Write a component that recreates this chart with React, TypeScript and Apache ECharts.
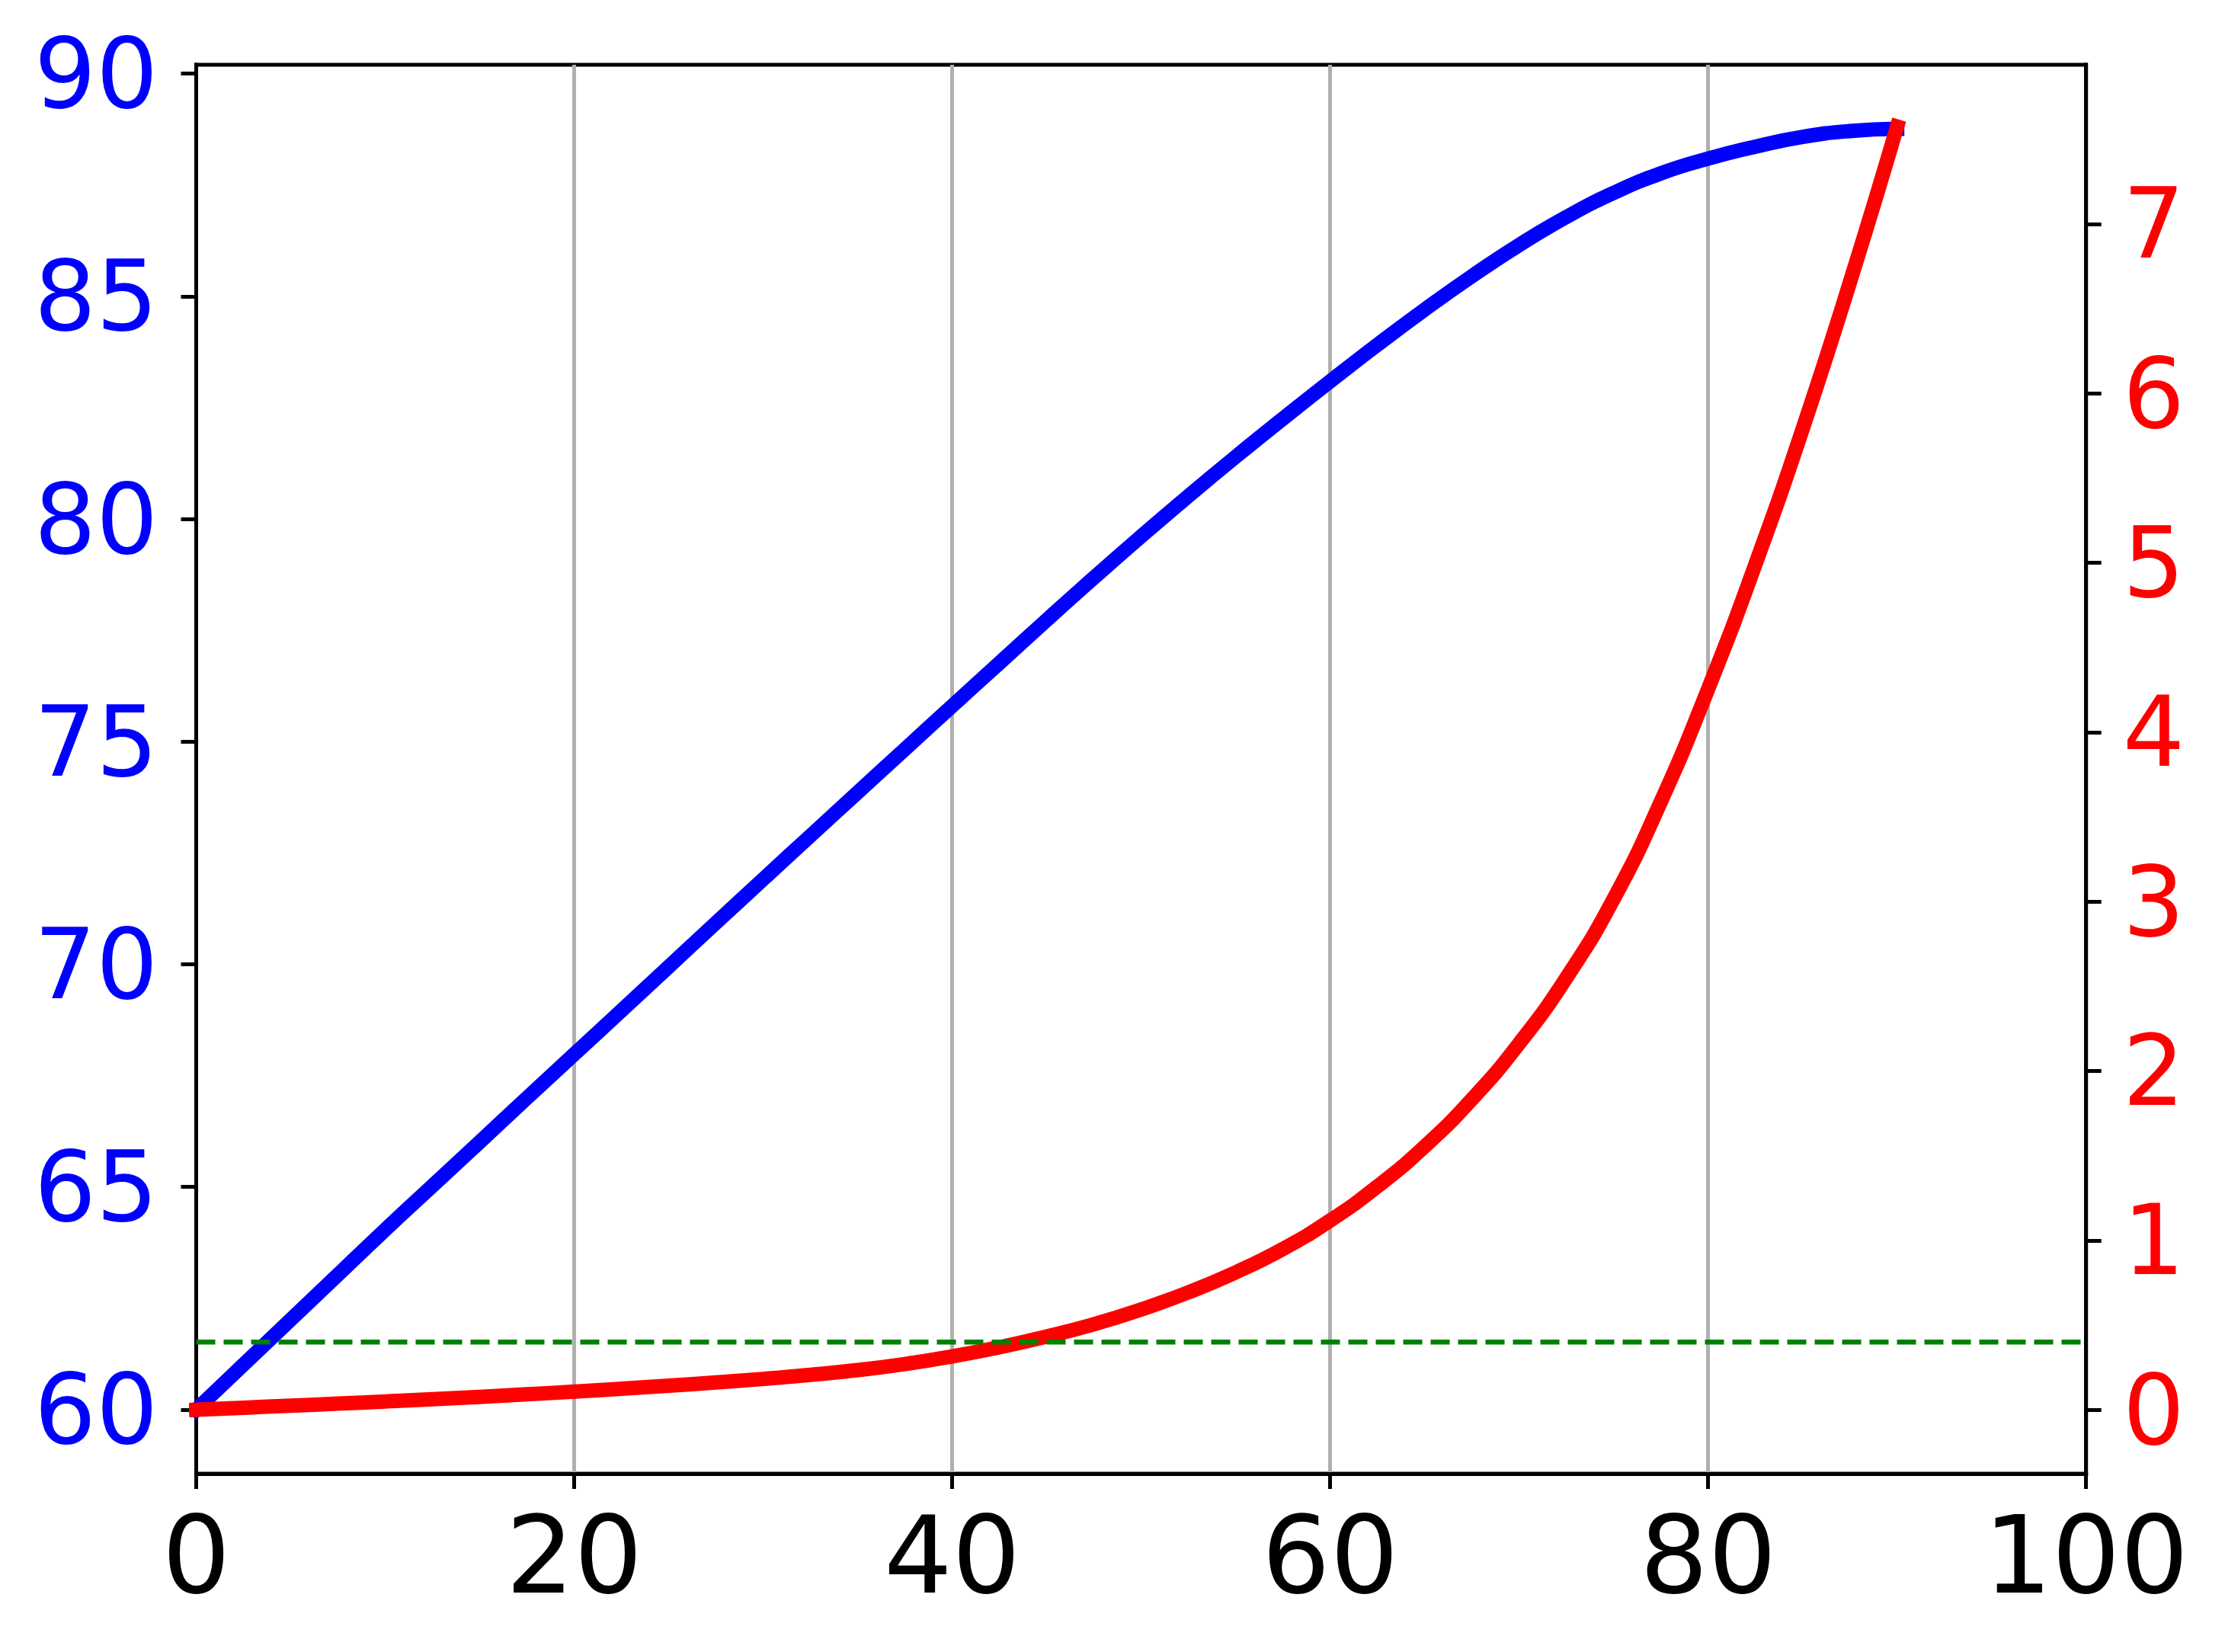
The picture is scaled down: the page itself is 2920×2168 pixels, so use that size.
import React, { useEffect, useRef } from "react";
import * as echarts from "echarts";

// x positions sampled along the curves
const xValues = [
  0, 2.5, 5, 7.5, 10, 12.5, 15, 17.5, 20, 22.5, 25, 27.5, 30, 32.5, 35, 37.5, 40, 42.5, 45,
  47.5, 50, 52.5, 55, 57.5, 60, 62.5, 65, 67.5, 70, 72.5, 75, 77.5, 80, 82.5, 85, 87.5, 90,
];
// blue curve (left axis)
const blueValues = [
  60.0, 61.01, 62.02, 63.03, 64.04, 65.025, 66.01, 67.0, 67.98, 68.96, 69.945, 70.93, 71.91,
  72.885, 73.86, 74.83, 75.8, 76.765, 77.73, 78.68, 79.61, 80.515, 81.395, 82.25, 83.09,
  83.91, 84.7, 85.45, 86.15, 86.78, 87.32, 87.76, 88.09, 88.36, 88.58, 88.71, 88.76,
];
// red curve (right axis)
const redValues = [
  0, 0.012, 0.024, 0.036, 0.049, 0.062, 0.076, 0.091, 0.107, 0.124, 0.142, 0.161, 0.182,
  0.206, 0.234, 0.27, 0.315, 0.369, 0.432, 0.505, 0.592, 0.693, 0.811, 0.949, 1.117, 1.318,
  1.554, 1.833, 2.162, 2.55, 3.015, 3.59, 4.255, 4.99, 5.79, 6.655, 7.575,
];
// green dashed threshold (right axis)
const thresholdX = [0, 100];
const thresholdValue = 0.4;

// tick labels
const xTicks = [0, 20, 40, 60, 80, 100];
const leftTicks = [60, 65, 70, 75, 80, 85, 90];
const rightTicks = [0, 1, 2, 3, 4, 5, 6, 7];

const FONT = "DejaVu Sans";

export default function App() {
  const ref = useRef<HTMLDivElement>(null);

  useEffect(() => {
    document.body.style.margin = "0";
    const chart = echarts.init(ref.current as HTMLDivElement, null, { renderer: "svg" });
    const tickStyle = { color: "#000", width: 5 };
    const spine = { show: true, onZero: false, lineStyle: { color: "#000", width: 5, cap: "square" } };
    chart.setOption({
      animation: false,
      backgroundColor: "#ffffff",
      textStyle: { fontFamily: FONT },
      grid: {
        left: 257.5,
        right: 182.3,
        top: 85,
        bottom: 234,
        show: true,
        borderColor: "#000",
        borderWidth: 5,
        backgroundColor: "transparent",
      },
      xAxis: {
        type: "value",
        min: xTicks[0],
        max: xTicks[xTicks.length - 1],
        interval: 20,
        axisLine: spine,
        axisTick: { show: true, length: 20, lineStyle: tickStyle },
        axisLabel: { color: "#000", fontSize: 141, fontFamily: FONT, margin: 36 },
        splitLine: { show: true, lineStyle: { color: "#b0b0b0", width: 5 } },
      },
      yAxis: [
        {
          type: "value",
          position: "left",
          min: 58.562,
          max: 90.198,
          axisLine: spine,
          axisTick: { show: true, length: 20, lineStyle: tickStyle, customValues: leftTicks },
          axisLabel: {
            color: "#0000ff",
            fontSize: 128,
            fontFamily: FONT,
            margin: 50,
            customValues: leftTicks,
          },
          splitLine: { show: false },
        },
        {
          type: "value",
          position: "right",
          min: -0.3775,
          max: 7.94,
          axisLine: spine,
          axisTick: { show: true, length: 20, lineStyle: tickStyle, customValues: rightTicks },
          axisLabel: {
            color: "#ff0000",
            fontSize: 128,
            fontFamily: FONT,
            margin: 48,
            customValues: rightTicks,
          },
          splitLine: { show: false },
        },
      ],
      series: [
        {
          type: "line",
          xAxisIndex: 0,
          yAxisIndex: 0,
          data: xValues.map((x, i) => [x, blueValues[i]]),
          showSymbol: false,
          smooth: true,
          lineStyle: { color: "#0000ff", width: 19, cap: "square", join: "round" },
          z: 2,
        },
        {
          type: "line",
          xAxisIndex: 0,
          yAxisIndex: 1,
          data: xValues.map((x, i) => [x, redValues[i]]),
          showSymbol: false,
          smooth: true,
          lineStyle: { color: "#ff0000", width: 19, cap: "square", join: "round" },
          z: 3,
        },
        {
          type: "line",
          xAxisIndex: 0,
          yAxisIndex: 1,
          data: thresholdX.map((x) => [x, thresholdValue]),
          showSymbol: false,
          lineStyle: { color: "#008000", width: 6.5, type: [25, 11], cap: "butt" },
          z: 4,
        },
      ],
    });
    return () => chart.dispose();
  }, []);

  return <div ref={ref} style={{ width: 2920, height: 2168, background: "#fff" }} />;
}
